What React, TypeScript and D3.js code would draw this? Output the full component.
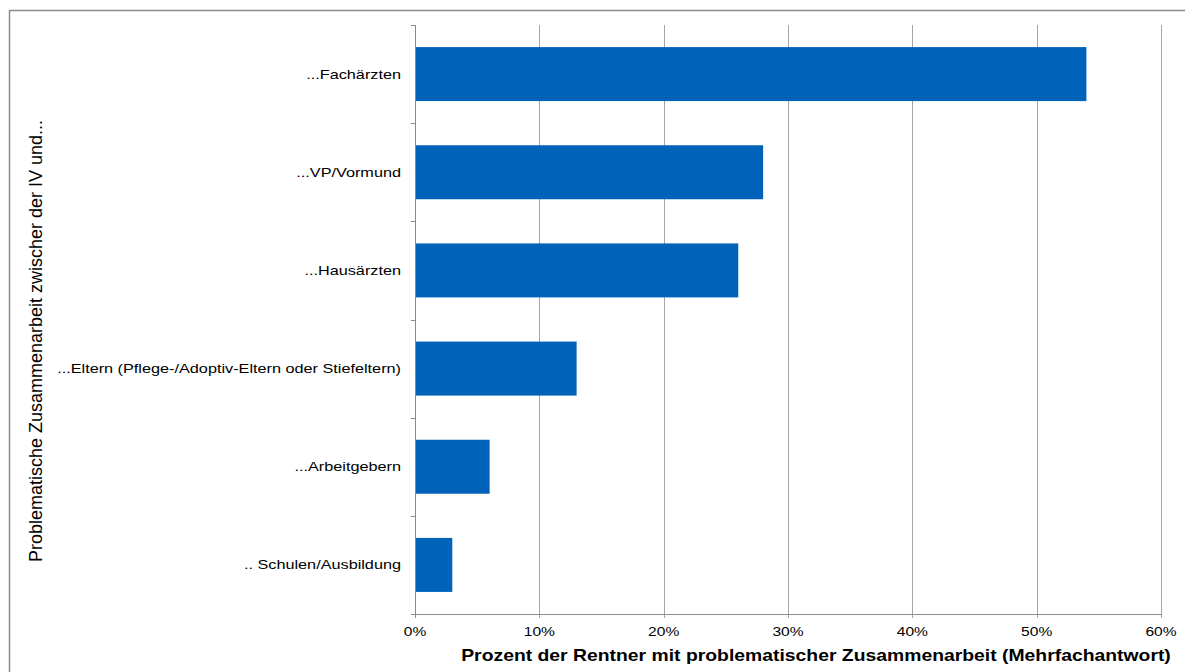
import React from "react";
import * as d3 from "d3";

const categories = [
  "...Fachärzten",
  "...VP/Vormund",
  "...Hausärzten",
  "...Eltern (Pflege-/Adoptiv-Eltern oder Stiefeltern)",
  "...Arbeitgebern",
  ".. Schulen/Ausbildung",
];
const values = [54, 28, 26, 13, 6, 3];
const xTicks = [0, 10, 20, 30, 40, 50, 60];
const xTitle = "Prozent der Rentner mit problematischer Zusammenarbeit  (Mehrfachantwort)";
const yTitle = "Problematische Zusammenarbeit  zwischer der IV und...";

export default function App() {
  const W = 1185, H = 672;
  const left = 415, right = 1161, top = 25, bottom = 614;
  const x = d3.scaleLinear().domain([0, 60]).range([left, right]);
  const y = d3.scaleBand().domain(categories).range([top, bottom]).paddingInner(0.45).paddingOuter(0.225);
  const bandEdges = d3.range(categories.length + 1).map((i) => top + (i * (bottom - top)) / categories.length);
  const font = "'Liberation Sans', Arial, sans-serif";
  const sx = 1.25;
  return (
    <svg width={W} height={H} style={{ position: "absolute", left: 0, top: 0 }} fontFamily={font}>
      <rect x={0} y={0} width={W} height={H} fill="#fff" />
      <line x1={9} y1={10.5} x2={W} y2={10.5} stroke="#8c8c8c" strokeWidth={1.5} />
      <line x1={9.5} y1={10} x2={9.5} y2={H} stroke="#8c8c8c" strokeWidth={1.5} />
      {xTicks.slice(1).map((t) => (
        <line key={t} x1={Math.round(x(t)) + 0.5} x2={Math.round(x(t)) + 0.5} y1={top} y2={bottom + 4} stroke="#a6a6a6" />
      ))}
      {categories.map((c, i) => (
        <rect key={c} x={x(0)} y={y(c)} width={x(values[i]) - x(0)} height={y.bandwidth()} fill="#0063b9" />
      ))}
      <line x1={left + 0.5} x2={left + 0.5} y1={top} y2={bottom + 4} stroke="#8c8c8c" />
      <line x1={left} x2={right + 1} y1={bottom + 0.5} y2={bottom + 0.5} stroke="#8c8c8c" />
      {bandEdges.map((e, i) => (
        <line key={i} x1={left - 4} x2={left} y1={Math.round(e) + 0.5} y2={Math.round(e) + 0.5} stroke="#8c8c8c" />
      ))}
      {categories.map((c) => (
        <text
          key={c}
          transform={`translate(401,${y(c)! + y.bandwidth() / 2}) scale(${sx},1)`}
          dy="0.35em"
          textAnchor="end"
          fontSize={13}
          fill="#000"
        >
          {c}
        </text>
      ))}
      {xTicks.map((t) => (
        <text key={t} transform={`translate(${x(t)},636) scale(1.2,1)`} textAnchor="middle" fontSize={13} fill="#000">
          {t}%
        </text>
      ))}
      <text transform={`translate(816,661) scale(1.21,1)`} textAnchor="middle" fontSize={16} fontWeight="bold" fill="#000">
        {xTitle}
      </text>
      <text transform={`translate(42,341) rotate(-90) scale(1.2,1.2)`} textAnchor="middle" fontSize={15} fill="#000">
        {yTitle}
      </text>
    </svg>
  );
}
